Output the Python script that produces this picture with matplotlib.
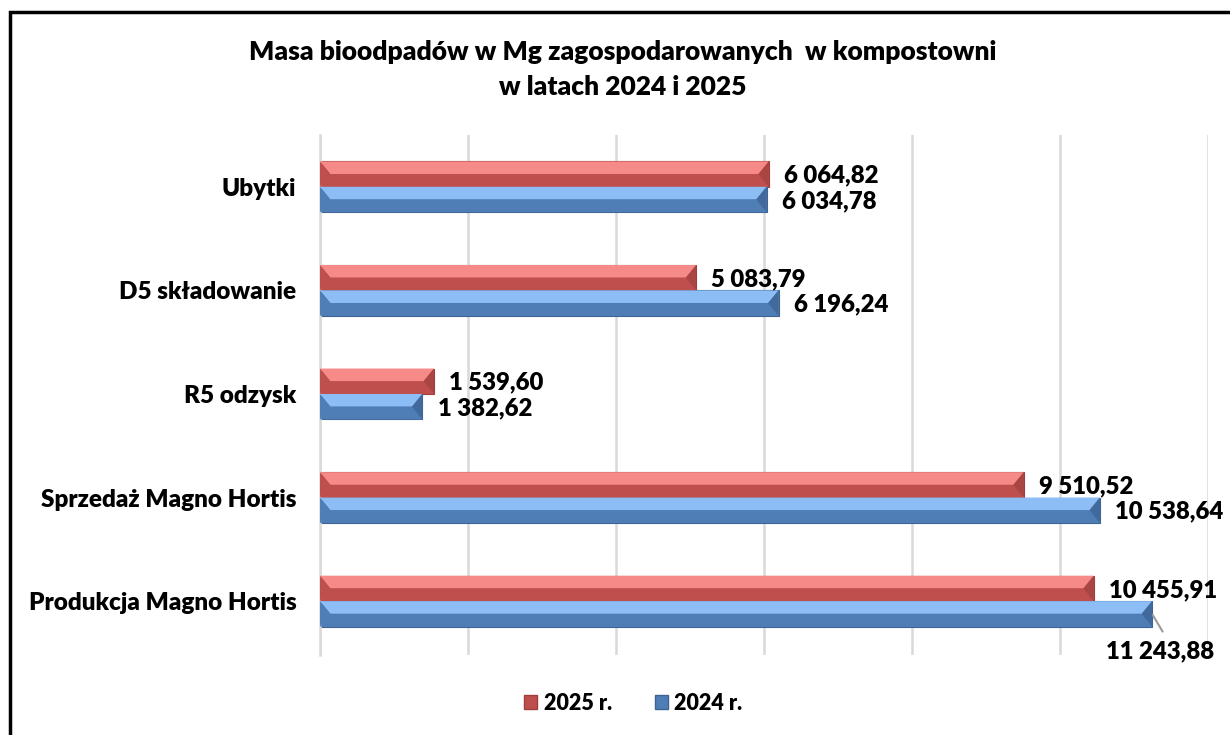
import matplotlib
matplotlib.use("Agg")
import matplotlib.pyplot as plt
from matplotlib.patches import Polygon, Rectangle, Patch
import numpy as np

plt.rcParams['font.family'] = ['Lato', 'DejaVu Sans']
plt.rcParams['font.weight'] = 'bold'

# categories listed bottom -> top
categories = ['Produkcja Magno Hortis', 'Sprzedaż Magno Hortis', 'R5 odzysk',
              'D5 składowanie', 'Ubytki']
vals_2025 = [10455.91, 9510.52, 1539.60, 5083.79, 6064.82]
vals_2024 = [11243.88, 10538.64, 1382.62, 6196.24, 6034.78]
series_names = ['2025 r.', '2024 r.']
xticks = [0, 2000, 4000, 6000, 8000, 10000, 12000]

red = dict(light='#F58A88', dark='#BE4F4C', side='#A94543')
blue = dict(light='#8CBDF5', dark='#4F7DB6', side='#41699C')

FW = 'heavy'


def fmt(v):
    s = f"{v:,.2f}"
    return s.replace(',', ' ').replace('.', ',')


def bevel(ax, patch, col, b):
    x0 = patch.get_x()
    w = patch.get_width()
    y0 = patch.get_y()
    h = patch.get_height()
    x1 = x0 + w
    ym = y0 + h / 2
    yt = y0 + h
    bb = min(b, w / 2)
    ax.add_patch(Polygon([(x0, yt), (x1, yt), (x1 - bb, ym), (x0 + bb, ym)],
                         closed=True, fc=col['light'], ec='none', zorder=3))
    ax.add_patch(Polygon([(x0, y0), (x1, y0), (x1 - bb, ym), (x0 + bb, ym)],
                         closed=True, fc=col['dark'], ec='none', zorder=3))
    ax.add_patch(Polygon([(x1, yt), (x1 - bb, ym), (x1, y0)],
                         closed=True, fc=col['side'], ec='none', zorder=3))
    ax.add_patch(Polygon([(x0, yt), (x0 + bb, ym), (x0, y0)],
                         closed=True, fc=col['dark'], ec='none', zorder=3))


fig = plt.figure(figsize=(12.3, 7.35), dpi=100)
ax = fig.add_axes([320 / 1230, 80 / 735, 888 / 1230, 520 / 735])

y = np.arange(len(categories))
h = 0.245
bars_r = ax.barh(y + h / 2, vals_2025, height=h, color=red['dark'],
                 edgecolor='#9E3F3D', linewidth=0.8, zorder=2)
bars_b = ax.barh(y - h / 2, vals_2024, height=h, color=blue['dark'],
                 edgecolor='#3E6494', linewidth=0.8, zorder=2)

b = 140
for p in bars_r:
    bevel(ax, p, red, b)
for p in bars_b:
    bevel(ax, p, blue, b)

ax.set_xlim(xticks[0], xticks[-1])
ax.set_ylim(-0.52, 4.5)
ax.set_xticks(xticks)
ax.tick_params(axis='x', length=0, labelbottom=False)
ax.tick_params(axis='y', length=0, pad=17)
ax.set_yticks(y)
ax.set_yticklabels(categories, fontsize=17.5, fontweight=FW)
ax.grid(axis='x', color='#D9D9D9', linewidth=1.8, zorder=0)
ax.set_axisbelow(True)
for s in ['top', 'right', 'bottom']:
    ax.spines[s].set_visible(False)
ax.spines['left'].set_color('#D9D9D9')
ax.spines['left'].set_linewidth(1.8)

for i, v in enumerate(vals_2025):
    ax.annotate(fmt(v), (v, y[i] + h / 2), xytext=(11, -1), textcoords='offset points',
                ha='left', va='center', fontsize=17.2, fontweight=FW)
for i, v in enumerate(vals_2024):
    if i == 0:
        ax.annotate(fmt(v), (v, y[i] - h / 2), xytext=(-33, -27),
                    textcoords='offset points', ha='left', va='center',
                    fontsize=17.2, fontweight=FW, zorder=6,
                    arrowprops=dict(arrowstyle='-', color='#9A9A9A', lw=1.5,
                                    shrinkA=5, shrinkB=1, relpos=(0.57, 1.0)))
    else:
        ax.annotate(fmt(v), (v, y[i] - h / 2), xytext=(11, -1), textcoords='offset points',
                    ha='left', va='center', fontsize=17.2, fontweight=FW)

fig.text(0.506, 1 - 52 / 735, 'Masa bioodpadów w Mg zagospodarowanych  w kompostowni',
         ha='center', va='center', fontsize=19, fontweight=FW)
fig.text(0.506, 1 - 87 / 735, 'w latach 2024 i 2025',
         ha='center', va='center', fontsize=19, fontweight=FW)

handles = [Patch(fc=red['dark'], ec='#9E3F3D'), Patch(fc=blue['dark'], ec='#3E6494')]
fig.legend(handles, series_names, loc='center', bbox_to_anchor=(0.515, 1 - 703 / 735),
           ncol=2, frameon=False, handlelength=0.6, handleheight=0.6,
           handletextpad=0.3, columnspacing=2.0, prop=dict(weight=FW, size=15.5))

fig.add_artist(Rectangle((10 / 1230, -0.05), 1.1, 1 - 12 / 735 + 0.05,
                         transform=fig.transFigure, fill=False, ec='black', lw=2.5))

fig.savefig('out.png', dpi=100)
